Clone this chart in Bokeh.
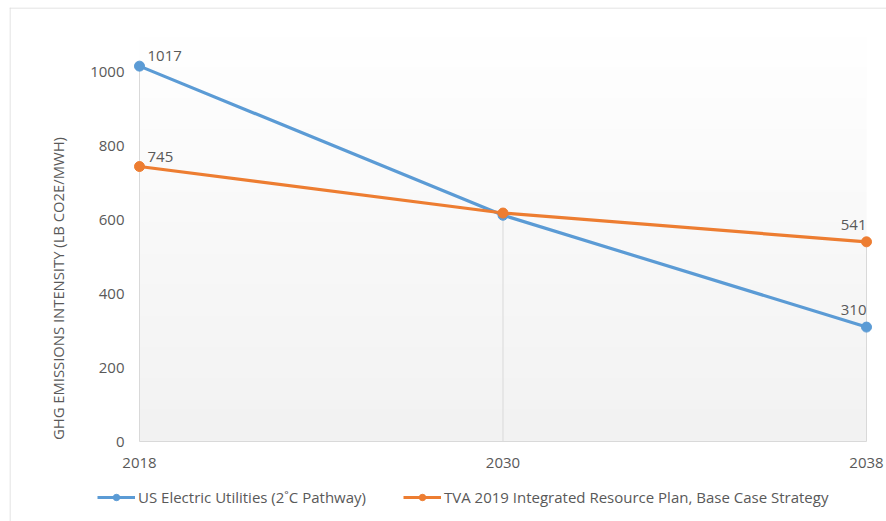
import numpy as np
from bokeh.plotting import figure
from bokeh.models import (Range1d, FixedTicker, Legend, LegendItem, Span,
                          ColumnDataSource)
from bokeh.core.properties import value
from bokeh.embed import file_html
from bokeh.resources import INLINE

# ---- data ----
years = ["2018", "2030", "2038"]
us_utilities = [1017, 613, 310]
tva_irp = [745, 619, 541]
series_names = ["US Electric Utilities (2˚C Pathway)",
                "TVA 2019 Integrated Resource Plan, Base Case Strategy"]
y_title = "GHG EMISSIONS INTENSITY (LB CO2E/MWH)"
y_ticks = [0, 200, 400, 600, 800, 1000]
y_max = 1100

FONT = "Open Sans"
TXT = "#595959"
GRID = "#d9d9d9"
BLUE = "#5b9bd5"
ORANGE = "#ed7d31"

xpos = list(range(len(years)))

# ---- layout (screen pixels) ----
FRAME_L, FRAME_R, FRAME_T, FRAME_B = 9, 886, 7, 521
X0_PX, X2_PX = 139, 866     # first / last category
Y0_PX, YMAX_PX = 441, 35    # y = 0 / y = y_max
px_per_x = (X2_PX - X0_PX) / (xpos[-1] - xpos[0])
px_per_y = (Y0_PX - YMAX_PX) / y_max


def sx(px):
    return xpos[0] + (px - X0_PX) / px_per_x


def sy(py):
    return (Y0_PX - py) / px_per_y


p = figure(width=886, height=521, output_backend="svg", toolbar_location=None,
           x_range=Range1d(sx(FRAME_L), sx(FRAME_R)),
           y_range=Range1d(sy(FRAME_B), sy(FRAME_T)),
           min_border_left=FRAME_L, min_border_right=886 - FRAME_R,
           min_border_top=FRAME_T, min_border_bottom=521 - FRAME_B)
p.outline_line_color = None
p.background_fill_color = "white"
p.border_fill_color = "white"

# chart border (left and top edges visible in the reference)
p.add_layout(Span(location=sx(FRAME_L + 0.5), dimension="height",
                  line_color=GRID, line_width=1))
p.add_layout(Span(location=sy(FRAME_T + 0.5), dimension="width",
                  line_color=GRID, line_width=1))

# plot-area gradient (white at top -> light gray at bottom)
n = 256
t = np.linspace(0, 1, n)  # row 0 = bottom
grey = (242 + (255 - 242) * t).astype(np.uint32)
img = np.empty((n, 1), dtype=np.uint32)
img[:, 0] = (255 << 24) | (grey << 16) | (grey << 8) | grey
p.image_rgba(image=[img], x=xpos[0], y=0, dw=xpos[-1] - xpos[0], dh=y_max)

# drop lines from the highest point to the axis
tops = [max(a, b) for a, b in zip(us_utilities, tva_irp)]
p.segment(x0=xpos, y0=[0] * len(xpos), x1=xpos, y1=tops,
          line_color=GRID, line_width=1)

# series
l1 = p.line(xpos, us_utilities, line_color=BLUE, line_width=3.2)
c1 = p.scatter(xpos, us_utilities, size=10, fill_color=BLUE, line_color=BLUE)
l2 = p.line(xpos, tva_irp, line_color=ORANGE, line_width=3.2)
c2 = p.scatter(xpos, tva_irp, size=10, fill_color=ORANGE, line_color=ORANGE)

# data labels (first point: right/above, last point: above-left)
lab_kw = dict(text_font=value(FONT), text_font_size="15px", text_color=TXT,
              text_baseline="middle")
first = ColumnDataSource(dict(x=[xpos[0], xpos[0]], y=[us_utilities[0], tva_irp[0]],
                              t=[str(us_utilities[0]), str(tva_irp[0])]))
p.text(x="x", y="y", text="t", source=first, x_offset=8, y_offset=-10,
       text_align="left", **lab_kw)
last = ColumnDataSource(dict(x=[xpos[-1], xpos[-1]], y=[us_utilities[-1], tva_irp[-1]],
                             t=[str(us_utilities[-1]), str(tva_irp[-1])]))
p.text(x="x", y="y", text="t", source=last, x_offset=0, y_offset=-17,
       text_align="right", **lab_kw)

# y axis title (rotated text)
p.text(x=[sx(57)], y=[sy(288)], text=[y_title], angle=np.pi / 2,
       text_font=value(FONT), text_font_size="14.8px", text_color=TXT,
       text_align="center", text_baseline="middle")

# grids
p.xgrid.visible = False
p.ygrid.visible = False

# x axis (drawn at y = 0)
xa = p.xaxis[0]
xa.fixed_location = 0
xa.ticker = FixedTicker(ticks=xpos)
xa.major_label_overrides = {i: y for i, y in zip(xpos, years)}
xa.bounds = (xpos[0], xpos[-1])
xa.axis_line_color = GRID
xa.major_tick_line_color = None
xa.minor_tick_line_color = None
xa.major_tick_out = 0
xa.major_tick_in = 0
xa.major_label_standoff = 16
xa.major_label_text_font = FONT
xa.major_label_text_font_size = "15px"
xa.major_label_text_color = TXT

# y axis (drawn just left of the first category)
ya = p.yaxis[0]
ya.fixed_location = sx(130)
ya.ticker = FixedTicker(ticks=y_ticks)
ya.axis_line_color = None
ya.major_tick_line_color = None
ya.minor_tick_line_color = None
ya.major_tick_out = 0
ya.major_tick_in = 0
ya.major_label_standoff = 6
ya.major_label_text_font = FONT
ya.major_label_text_font_size = "15px"
ya.major_label_text_color = TXT

legend = Legend(items=[LegendItem(label=series_names[0], renderers=[l1, c1]),
                       LegendItem(label=series_names[1], renderers=[l2, c2])],
                orientation="horizontal", location=(97 - FRAME_L, 14),
                glyph_width=38, glyph_height=16, label_standoff=3, spacing=37,
                padding=0, margin=0, border_line_color=None,
                background_fill_alpha=0,
                label_text_font=FONT, label_text_font_size="15px",
                label_text_color=TXT)
p.add_layout(legend, "center")

open("out.html", "w").write(file_html(p, INLINE))
